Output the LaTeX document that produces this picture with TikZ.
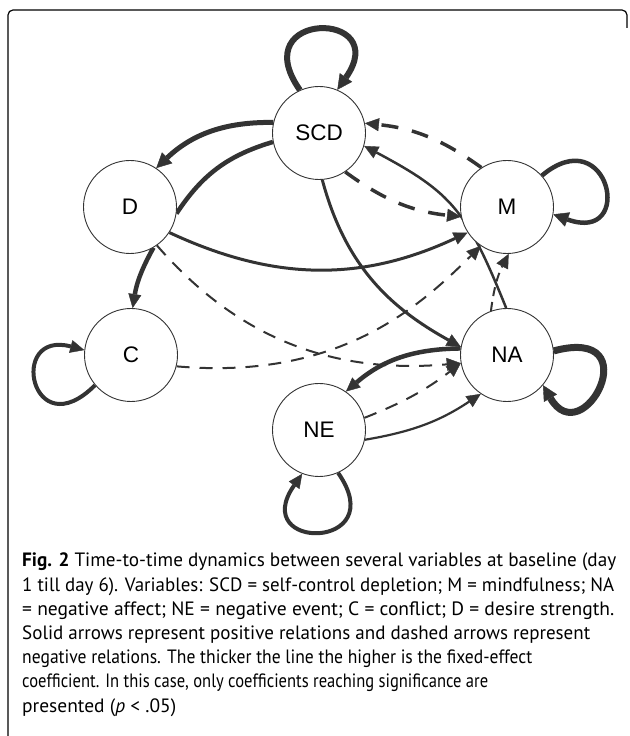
\documentclass[tikz,border=0pt]{standalone}
\usepackage{graphicx}
\usepackage{fontspec}
\newfontfamily\nodefont{Liberation Sans}
\newfontfamily\capfont{PT Sans}
\usetikzlibrary{arrows.meta}
\definecolor{edge}{HTML}{333333}
\pgfdeclarelayer{bg}
\pgfsetlayers{bg,main}
\newcommand\capfit[2]{\resizebox{#1}{\height}{#2}}
\begin{document}
\begin{tikzpicture}[x=1pt,y=1pt,
  var/.style={circle,draw=edge,line width=0.9pt,minimum size=93pt,inner sep=0pt,fill=white,
    font=\nodefont\fontsize{22.5}{27}\selectfont},
  ed/.style={draw=edge,line width=#1},
  arr/.style={-{Triangle[length=14pt,width=13pt,line width=0.4pt]}},
  arrb/.style={-{Triangle[length=15pt,width=15pt,line width=0.4pt]}},
  dsh/.style={dash pattern=on 13pt off 10pt},
  dshs/.style={dash pattern=on 9pt off 6pt},
  dshk/.style={dash pattern=on 17pt off 14pt},
  capline/.style={anchor=base west,inner sep=0pt,font=\capfont\fontsize{19.3}{24}\selectfont}]
\useasboundingbox (0,0) rectangle (629,736);
% frame
\draw[line width=1.2pt] (8,-2) -- (8,721) arc[start angle=180,end angle=90,radius=5]
  -- (622,726) arc[start angle=90,end angle=0,radius=5] -- (627,708);
% nodes
\node[var] (SCD) at (319,603) {SCD};
\node[var] (D) at (130,529) {D};
\node[var] (M) at (507,529) {M};
\node[var] (C) at (131,381) {C};
\node[var] (NA) at (507,381) {NA};
\node[var] (NE) at (319,306) {NE};
\begin{pgfonlayer}{bg}
% self loops
\draw[ed=6pt,arrb] (SCD.114) .. controls +(125:98) and +(55:98) .. (SCD.67);
\draw[ed=4.5pt,arrb] (M.42) .. controls +(40:88) and +(-20:88) .. (M.-9);
\draw[ed=7pt,arrb] (NA.5) .. controls +(15:100) and +(-60:80) .. (NA.-40);
\draw[ed=4pt,arr] (C.220) .. controls +(225:90) and +(165:80) .. (C.174);
\draw[ed=4pt,arr] (NE.-66) .. controls +(-55:95) and +(-125:95) .. (NE.249);
% edges
\draw[ed=5pt,arrb] (SCD.167) to[bend right=22] (D.56);
\draw[ed=4.5pt] (D.-8) to[bend left=20] (SCD.191);
\draw[ed=3pt,arr] (D.-33) to[bend right=25] (M.213);
\draw[ed=4.5pt,arr] (D.-60) to[bend right=10] (C.88);
\draw[ed=2pt,dsh,arr] (D.-55) .. controls +(-49:110) and +(185:141) .. (NA.190);
\draw[ed=2pt,dsh,arr] (C.-14) .. controls +(-5:160) and +(225:90) .. (M.236);
\draw[ed=3.5pt,dshk,arr] (SCD.-56) to[bend right=15] (M.192);
\draw[ed=3.5pt,dshk,arr] (M.123) to[bend right=15] (SCD.12);
\draw[ed=2.5pt,arr] (NA.91) .. controls +(112:105) and +(-28:100) .. (SCD.-16);
\draw[ed=3pt,arr] (SCD.-86) .. controls +(-75:90) and +(151:80) .. (NA.170);
\draw[ed=2pt,dshs,arr] (NA.110) to[bend left=10] (M.272);
\draw[ed=4.5pt,arr] (NA.172) to[bend right=20] (NE.55);
\draw[ed=2pt,dsh,arr] (NE.15) to[bend right=8] (NA.190);
\draw[ed=2.2pt,arr] (NE.-12) to[bend right=12] (NA.236);
\end{pgfonlayer}
% caption
\node[capline] (cap1) at (22,169) {\capfit{594pt}{\textbf{Fig. 2} Time-to-time dynamics between several variables at baseline (day}};
\node[capline] (cap2) at (22,144.8) {\capfit{592pt}{1 till day 6). Variables: SCD = self-control depletion; M = mindfulness; NA}};
\node[capline] (cap3) at (22,120.6) {\capfit{592pt}{= negative affect; NE = negative event; C = conflict; D = desire strength.}};
\node[capline] (cap4) at (22,96.4) {\capfit{568pt}{Solid arrows represent positive relations and dashed arrows represent}};
\node[capline] (cap5) at (22,72.2) {\capfit{510pt}{negative relations. The thicker the line the higher is the fixed-effect}};
\node[capline] (cap6) at (22,48) {\capfit{466pt}{coefficient. In this case, only coefficients reaching significance are}};
\node[capline] (cap7) at (22,23.8) {\capfit{154pt}{presented (\textit{p} < .05)}};
\end{tikzpicture}
\end{document}
